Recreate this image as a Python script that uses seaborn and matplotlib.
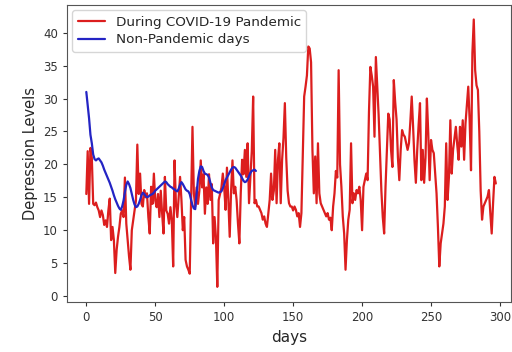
import matplotlib
matplotlib.use("Agg")
import matplotlib.pyplot as plt
import seaborn as sns
import numpy as np
import pandas as pd

# ── Data ──────────────────────────────────────────────────
pandemic = [
    15.5, 22.0, 14.0, 22.5, 21.0, 14.0, 13.8, 14.2, 13.5, 13.0,
    12.0, 13.0, 12.3, 10.8, 11.5, 10.5, 13.0, 14.8, 8.5, 10.5,
    8.5, 3.5, 7.0, 9.0, 10.5, 12.5, 13.0, 12.0, 18.0, 11.0,
    8.5, 6.0, 4.0, 10.0, 11.5, 13.0, 14.5, 23.0, 15.5, 18.6,
    14.0, 13.6, 16.1, 15.0, 15.6, 12.0, 9.5, 16.6, 14.0, 18.6,
    14.5, 13.5, 15.5, 12.0, 16.0, 12.5, 9.5, 18.1, 13.0, 12.5,
    11.0, 13.5, 11.5, 4.5, 20.6, 14.0, 12.0, 15.0, 18.1, 14.6,
    10.0, 12.0, 5.5, 4.5, 4.0, 3.4, 15.0, 25.7, 15.6, 13.6,
    16.5, 14.0, 16.0, 20.6, 16.5, 18.5, 12.5, 16.5, 14.0, 18.5,
    14.6, 17.0, 8.0, 12.0, 9.0, 1.4, 14.6, 15.5, 16.5, 18.6,
    16.5, 13.1, 19.5, 14.6, 9.0, 16.0, 20.6, 15.6, 16.6, 14.6,
    11.0, 8.0, 15.6, 20.7, 18.5, 22.2, 18.1, 23.2, 14.1, 18.1,
    22.0, 30.3, 14.1, 14.6, 13.6, 13.6, 13.1, 12.6, 11.6, 12.1,
    11.0, 10.5, 12.6, 14.6, 18.6, 14.6, 16.0, 22.2, 14.1, 20.7,
    23.2, 14.1, 20.7, 24.0, 29.3, 21.0, 16.0, 14.1, 13.6, 13.6,
    13.0, 13.6, 13.1, 12.1, 12.6, 10.5, 12.6, 21.2, 30.3, 31.8,
    33.5, 37.9, 37.6, 35.5, 22.2, 15.6, 21.2, 14.1, 23.2, 15.6,
    14.1, 13.6, 13.1, 12.6, 12.1, 12.6, 11.6, 11.9, 10.0, 13.6,
    15.6, 19.0, 18.0, 34.3, 20.0, 16.6, 12.1, 9.5, 4.0, 8.5,
    11.6, 13.1, 23.2, 14.1, 15.6, 14.6, 16.1, 15.6, 16.6, 14.6,
    10.0, 16.6, 17.6, 18.6, 17.6, 28.0, 34.8, 33.5, 31.8, 24.2,
    36.3, 31.8, 27.5, 21.7, 16.0, 12.0, 9.5, 16.6, 22.2, 27.7,
    26.8, 22.2, 19.6, 32.8, 29.5, 26.8, 21.0, 17.6, 22.2, 25.2,
    24.5, 24.2, 23.2, 22.2, 23.2, 26.5, 30.3, 25.7, 20.6, 17.2,
    22.2, 26.0, 29.3, 17.6, 22.2, 17.2, 21.0, 30.0, 24.7, 17.6,
    23.7, 22.2, 21.7, 18.6, 15.6, 10.5, 4.5, 8.0, 9.5, 11.0,
    13.6, 23.2, 14.6, 18.1, 26.7, 18.6, 22.2, 24.0, 25.7, 23.0,
    20.7, 25.7, 22.7, 26.7, 20.7, 26.2, 29.0, 31.8, 26.7, 19.1,
    36.9, 42.0, 34.3, 32.0, 31.3, 25.0, 16.0, 11.6, 13.6, 14.1,
    14.6, 15.1, 16.1, 12.6, 9.5, 14.1, 18.1, 17.1,
]

non_pandemic = [
    31.0, 29.0, 27.0, 24.5, 23.2, 21.5, 20.8, 20.6, 20.8, 20.9,
    20.6, 20.3, 19.8, 19.2, 18.7, 18.2, 17.7, 17.2, 16.6, 16.0,
    15.3, 14.7, 14.2, 13.7, 13.3, 13.1, 13.6, 14.5, 15.8, 16.9,
    17.4, 17.0, 16.4, 15.5, 14.6, 13.9, 13.5, 13.6, 14.0, 14.6,
    15.3, 15.7, 15.5, 15.2, 15.0, 15.1, 15.3, 15.4, 15.5, 15.7,
    16.0, 16.2, 16.4, 16.6, 16.8, 17.0, 17.2, 17.4, 17.3, 17.0,
    16.8, 16.6, 16.5, 16.3, 16.2, 16.0, 15.9, 16.3, 16.9, 17.3,
    17.0, 16.6, 16.2, 16.0, 15.9, 15.5, 14.6, 13.8, 13.3, 13.2,
    15.5, 17.8, 19.0, 19.7, 19.6, 19.0, 18.6, 18.5, 18.4, 18.0,
    17.2, 16.5, 16.1, 16.0, 15.9, 15.8, 15.7, 15.8, 15.9, 16.4,
    17.0, 17.6, 18.0, 18.4, 18.8, 19.2, 19.5, 19.6, 19.5, 19.2,
    18.9, 18.6, 18.3, 17.9, 17.5, 17.3, 17.4, 17.7, 18.2, 18.7,
    19.0, 19.1, 19.2, 19.0,
]

RED = "#dc1e1e"
BLUE = "#2424c4"

df = pd.concat([
    pd.DataFrame({"days": np.arange(len(pandemic)), "level": pandemic,
                  "group": "During COVID-19 Pandemic"}),
    pd.DataFrame({"days": np.arange(len(non_pandemic)), "level": non_pandemic,
                  "group": "Non-Pandemic days"}),
])

# ── Plot ──────────────────────────────────────────────────
sns.set_style("ticks")
plt.rcParams["font.family"] = ["DejaVu Sans"]

fig = plt.figure(figsize=(5.12, 3.52), dpi=100)
ax = fig.add_axes([67 / 512, 50 / 352, 444 / 512, 297 / 352])

sns.lineplot(data=df, x="days", y="level", hue="group",
             palette={"During COVID-19 Pandemic": RED, "Non-Pandemic days": BLUE},
             linewidth=1.6, ax=ax)

ax.set_xlim(-14, 308)
ax.set_ylim(-0.9, 44.2)
ax.set_xticks(range(0, 301, 50))
ax.set_yticks(range(0, 41, 5))
ax.tick_params(labelsize=8.5, colors="#333333", length=3)
ax.set_xlabel("days", fontsize=11)
ax.set_ylabel("Depression Levels", fontsize=10.5)
for s in ax.spines.values():
    s.set_color("#555555")

leg = ax.legend(loc="upper left", fontsize=9.7, frameon=True, handlelength=2.0,
                borderaxespad=0.4, labelspacing=0.35)
leg.get_frame().set_edgecolor("#cccccc")

plt.savefig("out.png", dpi=100)
